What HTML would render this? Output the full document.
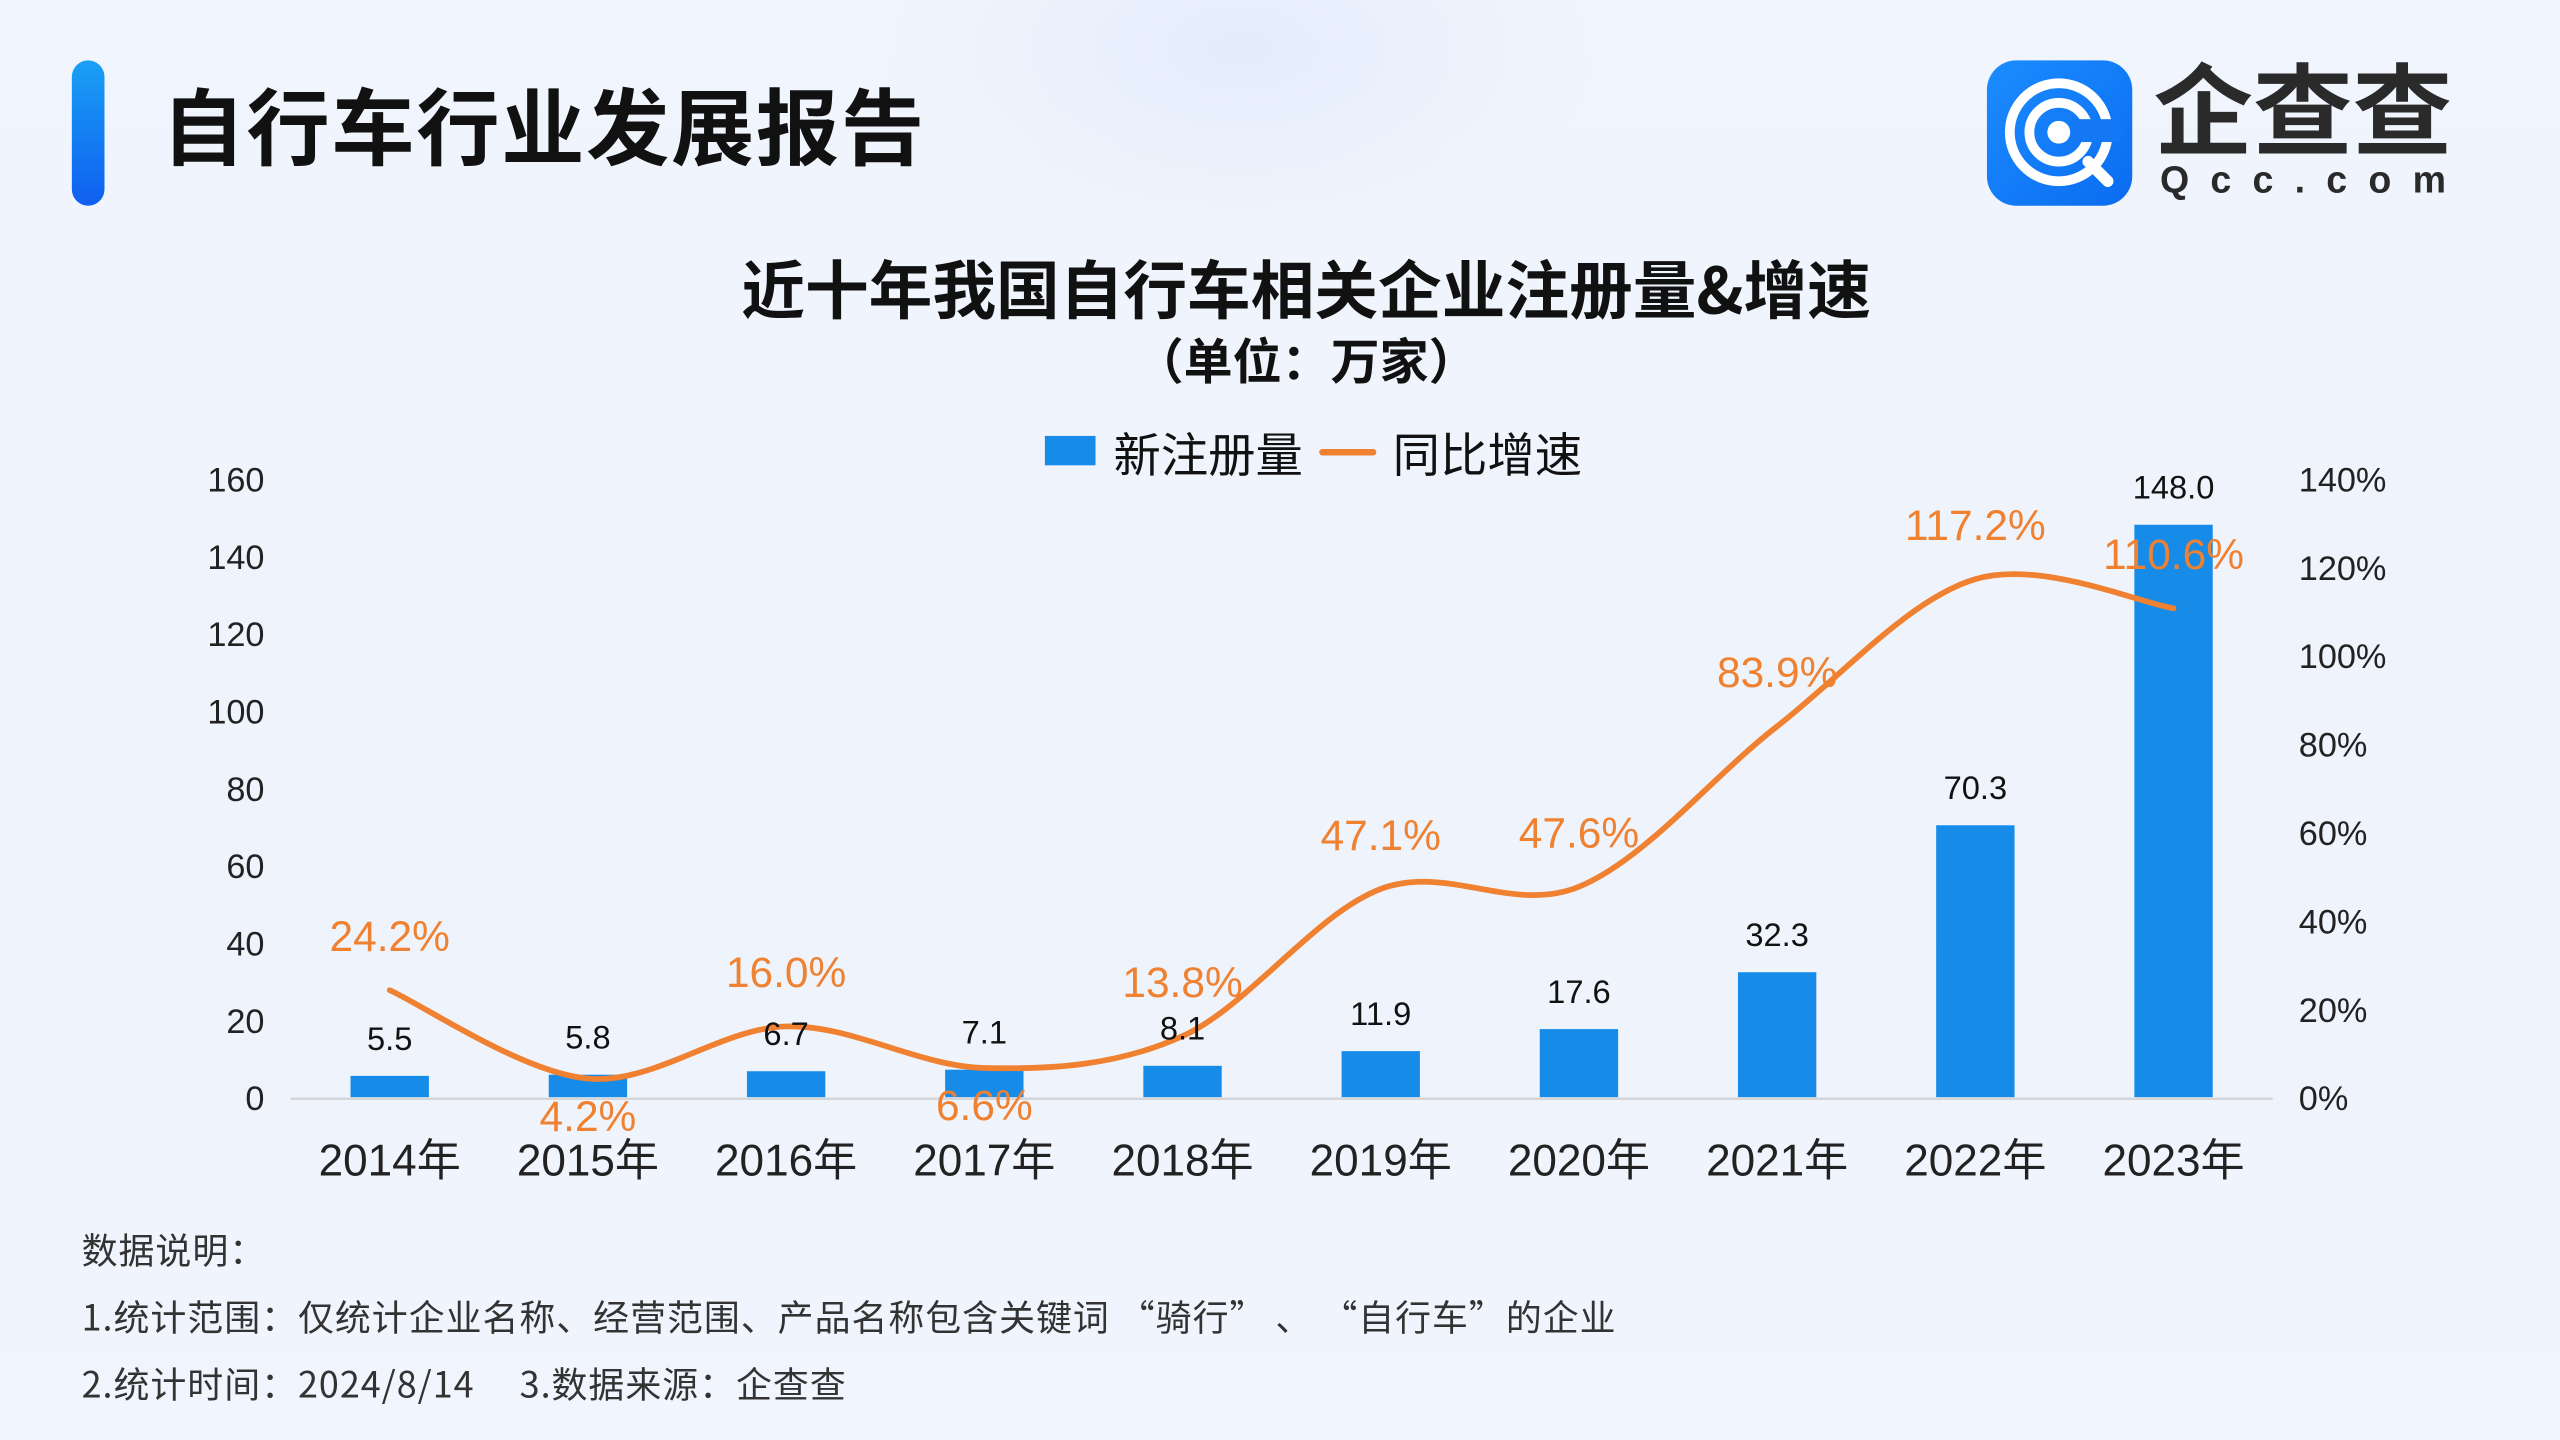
<!DOCTYPE html>
<html><head><meta charset="utf-8">
<style>
html,body{margin:0;padding:0;width:2560px;height:1440px;overflow:hidden;background:#eff4fd;}
#stage{position:absolute;left:0;top:0;width:1568px;height:882px;transform:scale(1.632653);transform-origin:0 0;
background:radial-gradient(ellipse 220px 120px at 760px 30px,#e4ecfb 0%,rgba(228,236,251,0) 100%),linear-gradient(180deg,#f1f5fd 0%,#eef3fc 60%,#f1f5fd 100%);
font-family:"Liberation Sans","Noto Sans CJK SC",sans-serif;color:#111;}
.abs{position:absolute;}
.fn{left:50px;font-size:22px;line-height:28px;color:#333;font-family:'Noto Sans CJK SC',sans-serif;letter-spacing:0.6px;white-space:pre;}
</style></head>
<body>
<div id="stage">
  <div class="abs" style="left:44px;top:37px;width:20px;height:89px;border-radius:10px;background:linear-gradient(180deg,#1aa0f5,#0f5ff0);"></div>
  <div class="abs" style="left:99px;top:43px;font-size:51px;font-weight:bold;font-family:'Noto Sans CJK SC',sans-serif;line-height:64px;letter-spacing:1px;">自行车行业发展报告</div>
  <div class="abs" style="left:1217px;top:37px;width:89px;height:89px;border-radius:18px;background:linear-gradient(135deg,#1c8cff,#0a6cf0);">
    <svg width="89" height="89" viewBox="0 0 89 89">
      <circle cx="44" cy="44" r="30" fill="none" stroke="#fff" stroke-width="6"/>
      <circle cx="44" cy="44" r="18" fill="none" stroke="#fff" stroke-width="6"/>
      <circle cx="44" cy="44" r="7" fill="#fff"/>
      <path d="M62 62 L74 74" stroke="#fff" stroke-width="7" stroke-linecap="round"/>
      <rect x="52" y="36" width="30" height="14" fill="#1478f5"/>
    </svg>
  </div>
  <div class="abs" style="left:1319px;top:26px;font-size:61px;font-weight:bold;color:#2a2a2a;font-family:'Noto Sans CJK SC',sans-serif;line-height:76px;">企查查</div>
  <div class="abs" style="left:1323px;top:96px;font-size:23px;font-weight:bold;color:#2a2a2a;letter-spacing:13px;line-height:28px;">Qcc.com</div>

  <div class="abs" style="left:0;width:1600px;top:150px;text-align:center;font-size:39px;font-weight:bold;font-family:'Noto Sans CJK SC',sans-serif;line-height:52px;">近十年我国自行车相关企业注册量&amp;增速</div>
  <div class="abs" style="left:0;width:1600px;top:198px;text-align:center;font-size:30px;font-weight:bold;font-family:'Noto Sans CJK SC',sans-serif;line-height:42px;">（单位：万家）</div>

  <div class="abs" style="left:640px;top:267px;width:31px;height:18px;background:#168ce8;"></div>
  <div class="abs" style="left:682px;top:257px;font-size:29px;line-height:40px;font-family:'Noto Sans CJK SC',sans-serif;">新注册量</div>
  <div class="abs" style="left:808px;top:275px;width:35px;height:4px;background:#ef8130;border-radius:2px;"></div>
  <div class="abs" style="left:853px;top:257px;font-size:29px;line-height:40px;font-family:'Noto Sans CJK SC',sans-serif;">同比增速</div>

  <svg id="chart" class="abs" style="left:0;top:0" width="1568" height="882"></svg>

  <div class="abs fn" style="top:751px;">数据说明：</div>
  <div class="abs fn" style="top:792px;">1.统计范围：仅统计企业名称、经营范围、产品名称包含关键词 “骑行” 、 “自行车”的企业</div>
  <div class="abs fn" style="top:833px;">2.统计时间：2024/8/14     3.数据来源：企查查</div>
</div>
<script>
const categories=["2014年","2015年","2016年","2017年","2018年","2019年","2020年","2021年","2022年","2023年"];
const counts=[5.5,5.8,6.7,7.1,8.1,11.9,17.6,32.3,70.3,148.0];
const growth=[24.2,4.2,16.0,6.6,13.8,47.1,47.6,83.9,117.2,110.6];
const leftTicks=[0,20,40,60,80,100,120,140,160];
const rightTicks=[0,20,40,60,80,100,120,140];
const growthLabelBelow=[false,true,false,true,false,false,false,false,false,false];

const NS="http://www.w3.org/2000/svg";
const svg=document.getElementById('chart');
const y0=672,yTop=293,x0=178,x1=1392;
const yL=v=>y0-(v/160)*(y0-yTop);
const yR=v=>y0-(v/140)*(y0-yTop);
const step=(x1-x0)/categories.length;
const xC=i=>x0+step*(i+0.5);
function mk(tag,attrs,text){const e=document.createElementNS(NS,tag);for(const k in attrs)e.setAttribute(k,attrs[k]);if(text!==undefined)e.textContent=text;svg.appendChild(e);return e;}
const ff='Liberation Sans, Noto Sans CJK SC, sans-serif';

leftTicks.forEach(t=>{const e=mk('text',{x:162,y:yL(t)+8,'text-anchor':'end','font-size':21,fill:'#222','font-family':ff},t);

});
rightTicks.forEach(t=>{const e=mk('text',{x:1408,y:yR(t)+8,'font-size':21,fill:'#222','font-family':ff},t+'%');

});

counts.forEach((v,i)=>{
  const b=mk('rect',{x:xC(i)-24,y:yL(v),width:48,height:y0-yL(v),fill:'#168ce8'});
  
  
});
const ax=mk('line',{x1:x0,x2:x1,y1:y0+1,y2:y0+1,stroke:'#d4d6da','stroke-width':1.5});



categories.forEach((c,i)=>{const e=mk('text',{x:xC(i),y:720,'text-anchor':'middle','font-size':27,fill:'#222','font-family':ff},c);

});

const pts=growth.map((v,i)=>[xC(i),yR(v)]);
let d='M'+pts[0][0]+','+pts[0][1];
for(let i=0;i<pts.length-1;i++){
  const p0=pts[Math.max(0,i-1)],p1=pts[i],p2=pts[i+1],p3=pts[Math.min(pts.length-1,i+2)];
  const t=6;
  const c1=[p1[0]+(p2[0]-p0[0])/t,p1[1]+(p2[1]-p0[1])/t];
  const c2=[p2[0]-(p3[0]-p1[0])/t,p2[1]-(p3[1]-p1[1])/t];
  d+=' C'+c1[0]+','+c1[1]+' '+c2[0]+','+c2[1]+' '+p2[0]+','+p2[1];
}
const ln=mk('path',{d:d,fill:'none',stroke:'#ef8130','stroke-width':3.5,'stroke-linecap':'round'});



counts.forEach((v,i)=>{const e=mk('text',{x:xC(i),y:yL(v)-16,'text-anchor':'middle','font-size':20,fill:'#111','font-family':ff},v.toFixed(1));

});
growth.forEach((v,i)=>{const below=growthLabelBelow[i];
const e=mk('text',{x:xC(i),y:below?yR(v)+32:yR(v)-24,'text-anchor':'middle','font-size':26,fill:'#ef8130','font-family':ff},v.toFixed(1)+'%');

});
</script>
</body></html>
